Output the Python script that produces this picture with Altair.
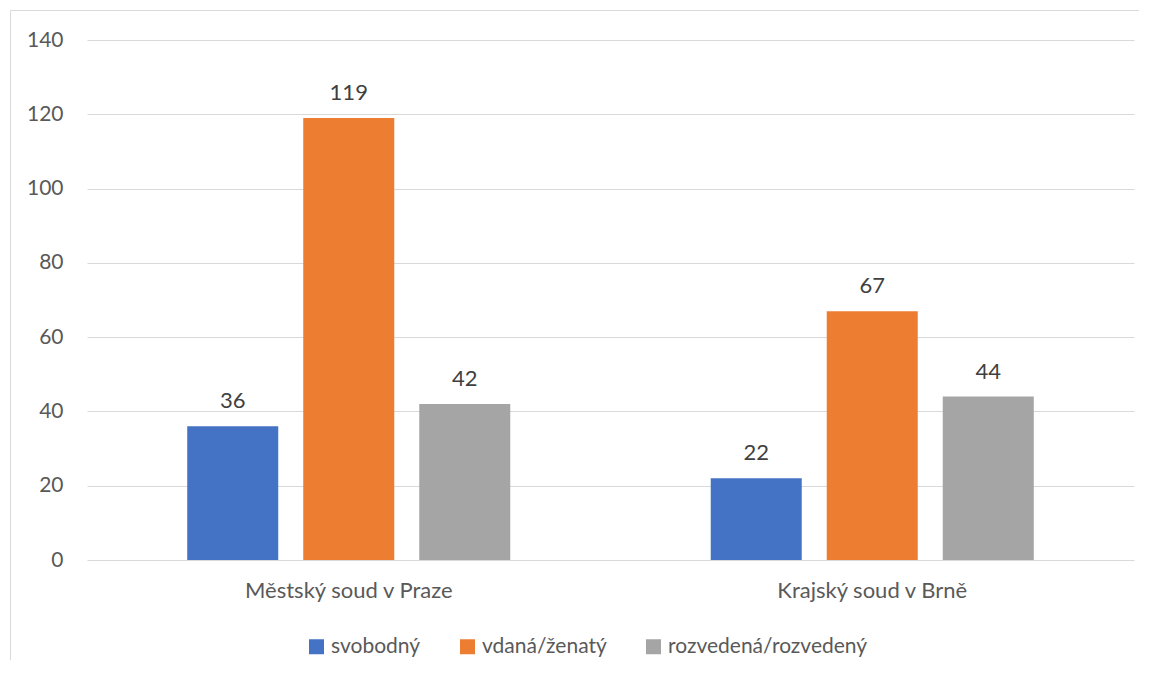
import altair as alt
import pandas as pd

courts = ["Městský soud v Praze", "Krajský soud v Brně"]
statuses = ["svobodný", "vdaná/ženatý", "rozvedená/rozvedený"]
svobodny = [36, 22]
vdana = [119, 67]
rozvedena = [42, 44]
colors = ["#4472C4", "#ED7D31", "#A5A5A5"]
y_ticks = [0, 20, 40, 60, 80, 100, 120, 140]

rows = []
for i, c in enumerate(courts):
    for s, vals in zip(statuses, [svobodny, vdana, rozvedena]):
        rows.append({"court": c, "status": s, "value": vals[i]})
df = pd.DataFrame(rows)

FONT = "Lato"
TXT = "#595959"

x_enc = alt.X("court:N", sort=courts,
              scale=alt.Scale(paddingInner=0, paddingOuter=0),
              axis=alt.Axis(title=None, labelAngle=0, labelFontSize=22, labelColor=TXT,
                            labelFont=FONT, labelPadding=20, ticks=False, domain=False,
                            grid=False, labelLimit=0))
xo_enc = alt.XOffset("status:N", sort=statuses,
                     scale=alt.Scale(paddingInner=0.2155, paddingOuter=0.864))
y_enc = alt.Y("value:Q", scale=alt.Scale(domain=[0, 140], nice=False),
              axis=alt.Axis(title=None, values=y_ticks, labelFontSize=21, labelColor=TXT,
                            labelFont=FONT, labelPadding=24, ticks=False, domain=False,
                            grid=True, gridColor="#d9d9d9", gridWidth=1))

bars = alt.Chart(df).mark_bar().encode(
    x=x_enc, xOffset=xo_enc, y=y_enc,
    color=alt.Color("status:N", sort=statuses,
                    scale=alt.Scale(domain=statuses, range=colors),
                    legend=alt.Legend(title=None, orient="none", direction="horizontal",
                                      legendX=219, legendY=596, symbolType="square",
                                      symbolSize=225, symbolStrokeWidth=0,
                                      labelFontSize=21, labelColor=TXT, labelFont=FONT,
                                      labelOffset=4, columnPadding=36, labelLimit=0)),
)

labels = alt.Chart(df).mark_text(dy=-18, baseline="alphabetic", fontSize=22,
                                 font=FONT, color="#404040").encode(
    x=x_enc, xOffset=xo_enc, y=y_enc, text="value:Q")

frame_df = pd.DataFrame({"a": [0]})
top_border = alt.Chart(frame_df).mark_rule(color="#d9d9d9", strokeWidth=1).encode(
    x=alt.value(-76.5), x2=alt.value(1060), y=alt.value(-29.5))
left_border = alt.Chart(frame_df).mark_rule(color="#d9d9d9", strokeWidth=1).encode(
    x=alt.value(-76.5), y=alt.value(-29.5), y2=alt.value(640))

chart = alt.layer(bars, labels, top_border, left_border).properties(
    width=1047, height=520,
    autosize=alt.AutoSizeParams(type="none"),
    padding={"left": 79, "top": 32, "right": 5, "bottom": 100},
).configure_view(stroke=None)

chart.save("out.html", embed_options={"renderer": "svg", "actions": False})
